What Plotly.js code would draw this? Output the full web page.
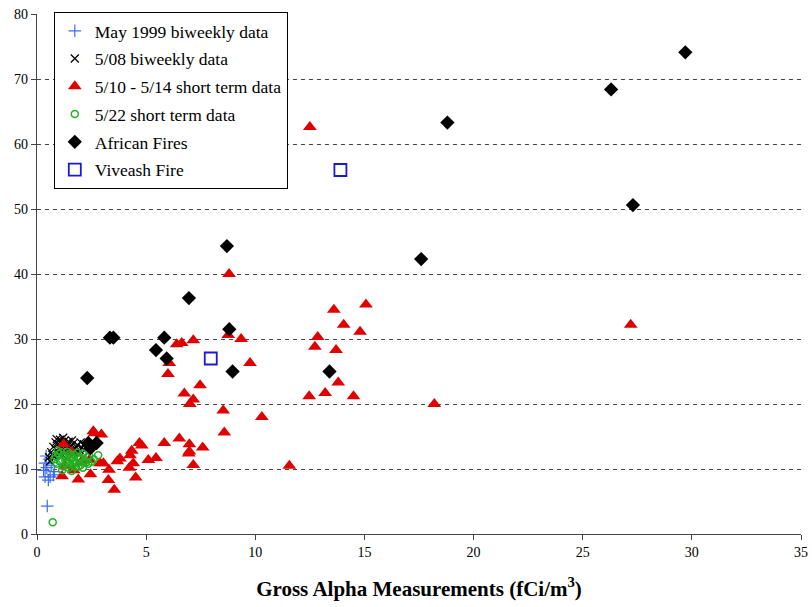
<!DOCTYPE html>
<html>
<head>
<meta charset="utf-8">
<script src="https://cdn.plot.ly/plotly-3.0.1.min.js"></script>
<style>html,body{margin:0;padding:0;background:#fff;}#chart{width:812px;height:607px;}</style>
</head>
<body>
<div id="chart"></div>
<script>
// May 1999 biweekly data
const may99X = [0.47, 0.37, 0.37, 0.52, 0.60, 0.75, 0.30, 0.45, 0.65, 0.55, 0.80, 0.42];
const may99Y = [4.3, 10.9, 8.8, 8.3, 8.8, 9.1, 9.8, 10.2, 10.5, 11.5, 9.6, 12.0];

// 5/08 biweekly data
const d0508X = [0.55,0.65,0.75,0.85,0.95,1.05,1.15,1.25,1.35,1.45,1.55,1.65,1.75,1.85,1.95,2.05,2.15,0.70,0.90,1.10,1.30,1.50,1.70,1.90,0.60,0.80,1.00,1.20,1.40,2.25,0.9,1.2,1.6,2.0];
const d0508Y = [11.8,12.6,13.4,14.1,13.8,14.5,13.9,14.3,13.6,14.2,13.5,13.9,13.2,13.7,12.9,13.3,13.8,12.2,12.9,13.1,12.8,12.7,12.4,12.6,11.2,11.9,12.3,12.1,11.9,13.1,14.6,14.8,14.4,14.1];

// 5/10 - 5/14 short term data
const st0510X = [12.5, 8.8, 15.07, 13.6, 14.05, 27.2, 14.8, 12.86, 12.73, 13.7, 13.8, 12.47, 13.2, 14.5, 18.2, 11.56,
  6.4, 6.63, 7.16, 8.76, 9.35, 6.06, 6.0, 9.76, 7.47, 6.75, 7.16, 7.0, 8.53, 10.3, 8.58, 6.52, 5.83, 6.98, 7.59, 6.98,
  4.69, 4.8, 4.34, 4.26, 4.41, 4.23, 4.52, 5.1, 5.45, 7.16, 2.64, 2.95, 2.89, 3.3, 3.68, 3.8, 3.27, 3.54,
  1.22, 2.4, 1.89, 1.68, 1.15, 6.95, 3.04, 1.6, 2.0, 1.3, 2.45, 2.58];
const st0510Y = [62.6, 40.0, 35.3, 34.5, 32.2, 32.2, 31.1, 30.3, 28.8, 28.3, 23.3, 21.2, 21.7, 21.2, 20.0, 10.5,
  29.2, 29.4, 29.8, 30.6, 30.0, 26.3, 24.6, 26.3, 22.9, 21.6, 20.7, 20.0, 19.0, 18.0, 15.6, 14.7, 14.0, 13.8, 13.3, 12.7,
  14.0, 13.6, 12.8, 12.1, 10.9, 10.2, 8.7, 11.4, 11.7, 10.6, 15.5, 15.3, 10.9, 9.9, 11.2, 11.6, 8.3, 6.8,
  13.8, 11.4, 8.4, 9.8, 8.9, 12.4, 10.9, 12.6, 11.0, 10.5, 9.2, 15.8];

// 5/22 short term data
const st0522X = [0.72, 0.8,0.9,1.0,1.1,1.2,1.3,1.4,1.5,1.6,1.7,1.8,1.9,2.0,2.1,2.2,2.3,2.4,2.6,2.8,0.95,1.15,1.35,1.55,1.75,1.95,2.15,2.35,1.05,1.25,1.45,1.65,1.85,2.5,1.59,2.1,0.85,1.3,1.7,2.0,2.25,1.1,1.5,1.9];
const st0522Y = [1.8, 11.5,10.8,12.3,11.2,10.4,11.8,12.6,10.9,11.6,12.2,11.0,11.9,10.6,12.4,11.3,11.8,12.0,11.5,12.1,12.8,9.8,10.9,12.0,10.3,11.5,11.0,10.8,11.1,12.1,10.2,11.3,12.5,11.1,9.7,10.2,12.0,11.3,10.8,11.7,11.0,12.6,12.3,10.4];

// African Fires
const africaX = [29.7, 26.3, 27.3, 18.8, 17.6, 8.7, 6.96, 3.34, 3.5, 5.83, 5.45, 5.94, 8.81, 8.96, 13.4, 2.3, 2.35, 2.45, 2.73];
const africaY = [74.1, 68.4, 50.6, 63.3, 42.3, 44.3, 36.3, 30.2, 30.2, 30.2, 28.3, 27.0, 31.5, 25.0, 25.0, 24.0, 14.0, 13.2, 14.0];

// Viveash Fire
const viveashX = [13.9, 7.96];
const viveashY = [56.0, 27.0];

const serif = "Liberation Serif, Times New Roman, serif";

const traces = [
  {name: "May 1999 biweekly data", x: may99X, y: may99Y, type: "scatter", mode: "markers",
   marker: {symbol: "cross-thin-open", size: 9, color: "#3a6df0", line: {width: 1.2, color: "#3a6df0"}}},
  {name: "5/08 biweekly data", x: d0508X, y: d0508Y, type: "scatter", mode: "markers",
   marker: {symbol: "x-thin-open", size: 8, color: "#000", line: {width: 1.3, color: "#000"}}},
  {name: "5/10 - 5/14 short term data", x: st0510X, y: st0510Y, type: "scatter", mode: "markers",
   marker: {symbol: "triangle-up", size: 12, color: "#e00000", line: {width: 0}}},
  {name: "5/22 short term data", x: st0522X, y: st0522Y, type: "scatter", mode: "markers",
   marker: {symbol: "circle-open", size: 7, color: "#22b022", line: {width: 1.5, color: "#22b022"}}},
  {name: "African Fires", x: africaX, y: africaY, type: "scatter", mode: "markers",
   marker: {symbol: "diamond", size: 11, color: "#000", line: {width: 0}}},
  {name: "Viveash Fire", x: viveashX, y: viveashY, type: "scatter", mode: "markers",
   marker: {symbol: "square-open", size: 12, color: "#1a1ad6", line: {width: 1.8, color: "#1a1ad6"}}}
];
traces.forEach((t, i) => { t.legendgroup = "g" + i; });

const layout = {
  width: 812, height: 607,
  margin: {l: 37, r: 11, t: 14, b: 73},
  paper_bgcolor: "#fff", plot_bgcolor: "#fff",
  font: {family: serif, size: 14, color: "#000"},
  showlegend: true,
  legend: {
    x: 0.022, y: 1.004, xanchor: "left", yanchor: "top",
    bgcolor: "#fff", bordercolor: "#000", borderwidth: 1,
    font: {family: serif, size: 17.5, color: "#000"},
    traceorder: "grouped", tracegroupgap: 2
  },
  xaxis: {
    range: [0, 35], dtick: 5, tick0: 0,
    showgrid: false, zeroline: false,
    showline: true, linecolor: "#444", linewidth: 1.3,
    ticks: "outside", ticklen: 5, tickcolor: "#444",
    tickfont: {family: serif, size: 14, color: "#000"},
    title: {text: "<b>Gross Alpha Measurements (fCi/m<sup>3</sup>)</b>", font: {family: serif, size: 21, color: "#000"}, standoff: 22}
  },
  yaxis: {
    range: [0, 80], dtick: 10, tick0: 0,
    showgrid: true, gridcolor: "#444", gridwidth: 1, griddash: "4px,4px",
    zeroline: false,
    showline: true, linecolor: "#444", linewidth: 1.3,
    ticks: "outside", ticklen: 5, tickcolor: "#444",
    tickfont: {family: serif, size: 14, color: "#000"}
  }
};

Plotly.newPlot("chart", traces, layout, {displayModeBar: false, staticPlot: true});
</script>
</body>
</html>
